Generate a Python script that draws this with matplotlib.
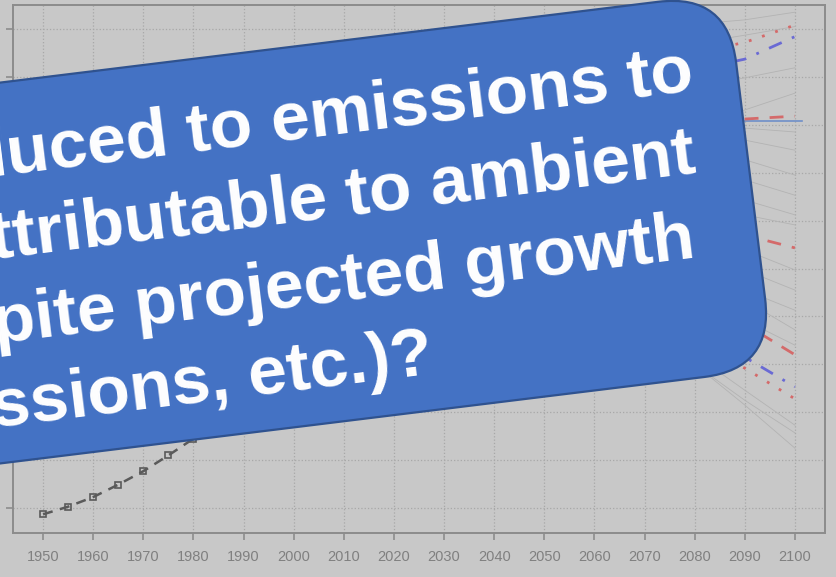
import matplotlib.pyplot as plt
from matplotlib.patches import FancyBboxPatch
from matplotlib.transforms import Affine2D

# historical series (5-year steps)
hist_years = [1950, 1955, 1960, 1965, 1970, 1975, 1980, 1985, 1990, 1995, 2000, 2005, 2010]
hist_vals = [-0.13, 0.03, 0.23, 0.49, 0.77, 1.10, 1.45, 1.80, 2.20, 2.60, 3.00, 3.50, 4.00]

# projection years
proj_years = [2080, 2090, 2100]

# scenario ensemble (thin grey lines)
grey_runs = [
    [10.10, 10.19, 10.35],
    [9.70, 9.87, 10.05],
    [8.80, 8.98, 9.19],
    [8.00, 8.31, 8.66],
    [8.00, 7.93, 7.85],
    [7.85, 7.68, 7.47],
    [7.50, 7.27, 6.95],
    [7.10, 6.85, 6.53],
    [6.70, 6.43, 6.12],
    [6.30, 6.12, 5.91],
    [5.75, 5.39, 4.97],
    [5.30, 4.97, 4.55],
    [4.90, 4.55, 4.13],
    [4.80, 4.34, 3.72],
    [4.40, 3.92, 3.40],
    [3.20, 2.46, 1.73],
    [3.00, 2.25, 1.57],
    [3.00, 2.15, 1.25],
]

# highlighted projections
red_dot_hi = [9.50, 9.72, 10.08]
blue_dd_hi = [9.15, 9.37, 9.84]
red_dash_flat = [8.08, 8.12, 8.18]
red_dash_mid = [5.95, 5.70, 5.43]
red_dash_lo = [4.40, 3.84, 3.20]
blue_dd_lo = [3.80, 3.15, 2.53]
red_dot_lo = [3.50, 2.92, 2.28]
ref_level = 8.08

x_ticks = list(range(1950, 2101, 10))
y_ticks = list(range(0, 11))

question_lines = [
    "be reduced to emissions to",
    "attributable to ambient",
    "despite projected growth",
    "emissions, etc.)?",
]
# right end of each line (x, baseline y) in figure pixels
line_ends = [(695, 90), (697, 172), (697, 257), (435, 373)]

bg = '#c8c8c8'
fig = plt.figure(figsize=(8.37, 5.77), dpi=100, facecolor=bg)
ax = fig.add_axes([13 / 837, (577 - 533) / 577, (825 - 13) / 837, (533 - 5) / 577])
ax.set_facecolor(bg)

for run in grey_runs:
    ax.plot(proj_years, run, color='#b3b3b3', lw=0.6)

ax.plot(hist_years, hist_vals, color='#5a5a5a', lw=1.8, ls=(0, (4, 3)),
        marker='s', ms=4, mfc='none', mec='#5a5a5a', mew=1.2)

red = '#d46a6a'
blue = '#6a6ad4'
ax.plot(proj_years, red_dot_hi, color=red, lw=2, ls=(0, (1, 4)))
ax.plot(proj_years, blue_dd_hi, color=blue, lw=2, ls=(0, (5, 4, 1, 4)))
ax.plot([2090, 2101.5], [ref_level, ref_level], color='#6f8fc8', lw=1.2)
ax.plot(proj_years, red_dash_flat, color=red, lw=2, ls=(0, (5, 4)))
ax.plot(proj_years, red_dash_mid, color=red, lw=2, ls=(0, (5, 4)))
ax.plot(proj_years, red_dash_lo, color=red, lw=2, ls=(0, (5, 4)))
ax.plot(proj_years, blue_dd_lo, color=blue, lw=2, ls=(0, (5, 4, 1, 4)))
ax.plot(proj_years, red_dot_lo, color=red, lw=2, ls=(0, (1, 4)))

ax.set_xlim(1944, 2106)
ax.set_ylim(-0.52, 10.5)
ax.set_xticks(x_ticks)
ax.set_yticks(y_ticks)
ax.set_yticklabels([])
ax.grid(True, color='#a8a8a8', ls=':', lw=0.9)
ax.tick_params(axis='both', color='#8c8c8c', length=5, width=1.2,
               labelcolor='#808080', labelsize=10.5, pad=7)
for s in ax.spines.values():
    s.set_color('#8c8c8c')
    s.set_linewidth(1.4)
for lbl in ax.get_xticklabels():
    lbl.set_family('Liberation Sans')

# rotated callout box drawn in figure pixel coordinates
ov = fig.add_axes([0, 0, 1, 1], zorder=5)
ov.set_xlim(0, 837)
ov.set_ylim(577, 0)
ov.axis('off')
ov.patch.set_alpha(0)

box = FancyBboxPatch((-400, 82), 1123, 378, boxstyle='round,pad=0,rounding_size=70',
                     facecolor='#4472c4', edgecolor='#2f528f', lw=1.6,
                     transform=Affine2D().rotate_deg(-7) + ov.transData)
ov.add_patch(box)

for txt, (xe, ye) in zip(question_lines, line_ends):
    ov.text(xe, ye, txt, rotation=7, rotation_mode='anchor', ha='right', va='baseline',
            fontsize=50, fontweight='bold', color='white', family='Liberation Sans')

fig.savefig('out.png', dpi=100, facecolor=bg)
